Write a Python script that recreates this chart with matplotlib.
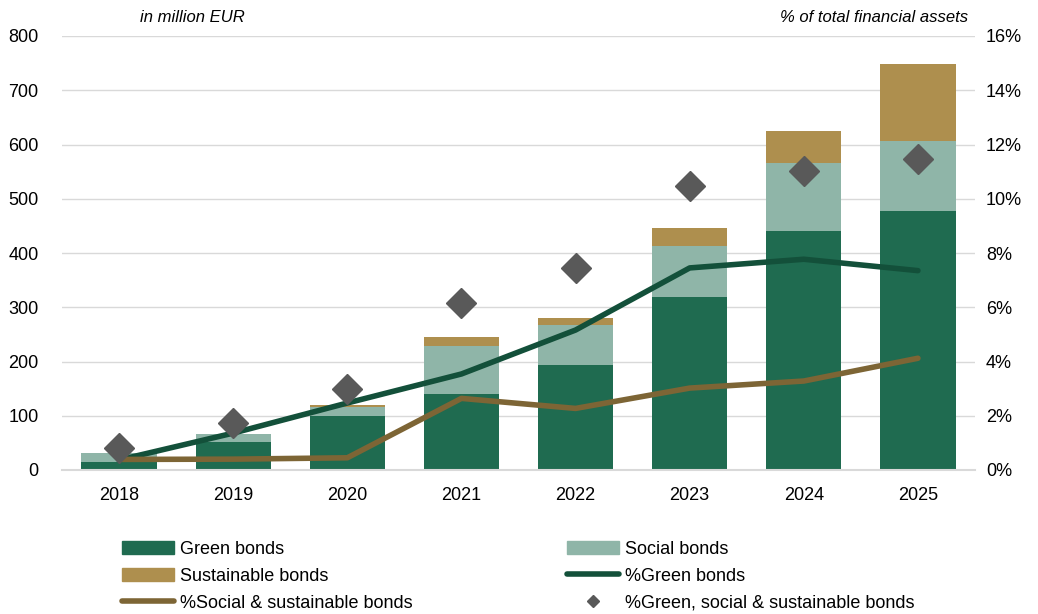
import matplotlib
matplotlib.use("Agg")
import matplotlib.pyplot as plt
from matplotlib import font_manager
from matplotlib.lines import Line2D
from matplotlib.patches import Patch
import numpy as np

years = ["2018", "2019", "2020", "2021", "2022", "2023", "2024", "2025"]

# in million EUR
green = [15, 52, 100, 141, 194, 318, 440, 477]
social = [16, 15, 17, 87, 73, 94, 126, 129]
sustainable = [0, 0, 2, 18, 14, 35, 59, 142]

# % of total financial assets
pct_green = [0.37, 1.36, 2.47, 3.54, 5.16, 7.45, 7.77, 7.35]
pct_soc_sus = [0.39, 0.40, 0.45, 2.64, 2.27, 3.02, 3.28, 4.12]
pct_all = [0.82, 1.72, 2.99, 6.15, 7.44, 10.47, 11.03, 11.47]

c_green = "#1f6b50"
c_social = "#8fb5a8"
c_sust = "#ae8f4e"
c_line_green = "#13503a"
c_line_soc = "#7d6535"
c_diamond = "#595959"

names = {f.name for f in font_manager.fontManager.ttflist}
fam = "Liberation Sans Narrow" if "Liberation Sans Narrow" in names else "Liberation Sans"
plt.rcParams["font.family"] = [fam, "DejaVu Sans"]
fs = 14 if fam == "Liberation Sans Narrow" else 13

fig = plt.figure(figsize=(10.38, 6.14), dpi=100)
ax = fig.add_axes([62 / 1038, 1 - 470 / 614, (975 - 62) / 1038, (470 - 36) / 614])
ax2 = ax.twinx()

x = np.arange(len(years))
w = 0.66
bottom2 = np.array(green) + np.array(social)
ax.bar(x, green, w, color=c_green, zorder=2)
ax.bar(x, social, w, bottom=green, color=c_social, zorder=2)
ax.bar(x, sustainable, w, bottom=bottom2, color=c_sust, zorder=2)

ax.set_ylim(0, 800)
ax.set_yticks(range(0, 801, 100))
ax.set_xlim(-0.5, len(years) - 0.5)
ax.set_xticks(x)
ax.set_xticklabels(years)
ax.grid(axis="y", color="#d9d9d9", linewidth=1, zorder=0)
ax.set_axisbelow(True)
for s in ["top", "left", "right"]:
    ax.spines[s].set_visible(False)
ax.spines["bottom"].set_color("#d9d9d9")
ax.spines["bottom"].set_linewidth(1.5)
ax.tick_params(axis="both", length=0, labelsize=fs, colors="black")
ax.tick_params(axis="x", pad=12)
ax.tick_params(axis="y", pad=17)

ax2.plot(x, pct_green, color=c_line_green, linewidth=4, solid_capstyle="round", zorder=3)
ax2.plot(x, pct_soc_sus, color=c_line_soc, linewidth=4, solid_capstyle="round", zorder=3)
ax2.plot(x, pct_all, linestyle="none", marker="D", markersize=15, color=c_diamond, zorder=4)
ax2.set_ylim(0, 16)
ax2.set_yticks(range(0, 17, 2))
ax2.set_yticklabels([f"{v}%" for v in range(0, 17, 2)])
for s in ["top", "left", "right", "bottom"]:
    ax2.spines[s].set_visible(False)
ax2.tick_params(axis="y", length=0, labelsize=fs, pad=8)

fig.text(140 / 1038, 1 - 18 / 614, "in million EUR", fontsize=fs - 1, style="italic", va="center")
fig.text(968 / 1038, 1 - 18 / 614, "% of total financial assets", fontsize=fs - 1,
         style="italic", va="center", ha="right")

handles = [
    Patch(color=c_green, label="Green bonds"),
    Patch(color=c_sust, label="Sustainable bonds"),
    Line2D([], [], color=c_line_soc, linewidth=4, solid_capstyle="round", label="%Social & sustainable bonds"),
    Patch(color=c_social, label="Social bonds"),
    Line2D([], [], color=c_line_green, linewidth=4, solid_capstyle="round", label="%Green bonds"),
    Line2D([], [], linestyle="none", marker="D", markersize=6, color=c_diamond,
           label="%Green, social & sustainable bonds"),
]
fig.legend(handles=handles, ncol=2, loc="upper left", bbox_to_anchor=(122 / 1038, 1 - 541 / 614),
           frameon=False, fontsize=fs, handlelength=2.9, handleheight=0.75, handletextpad=0.3,
           columnspacing=8.55, labelspacing=0.55, borderaxespad=0, borderpad=0)

fig.savefig("out.png", dpi=100)
